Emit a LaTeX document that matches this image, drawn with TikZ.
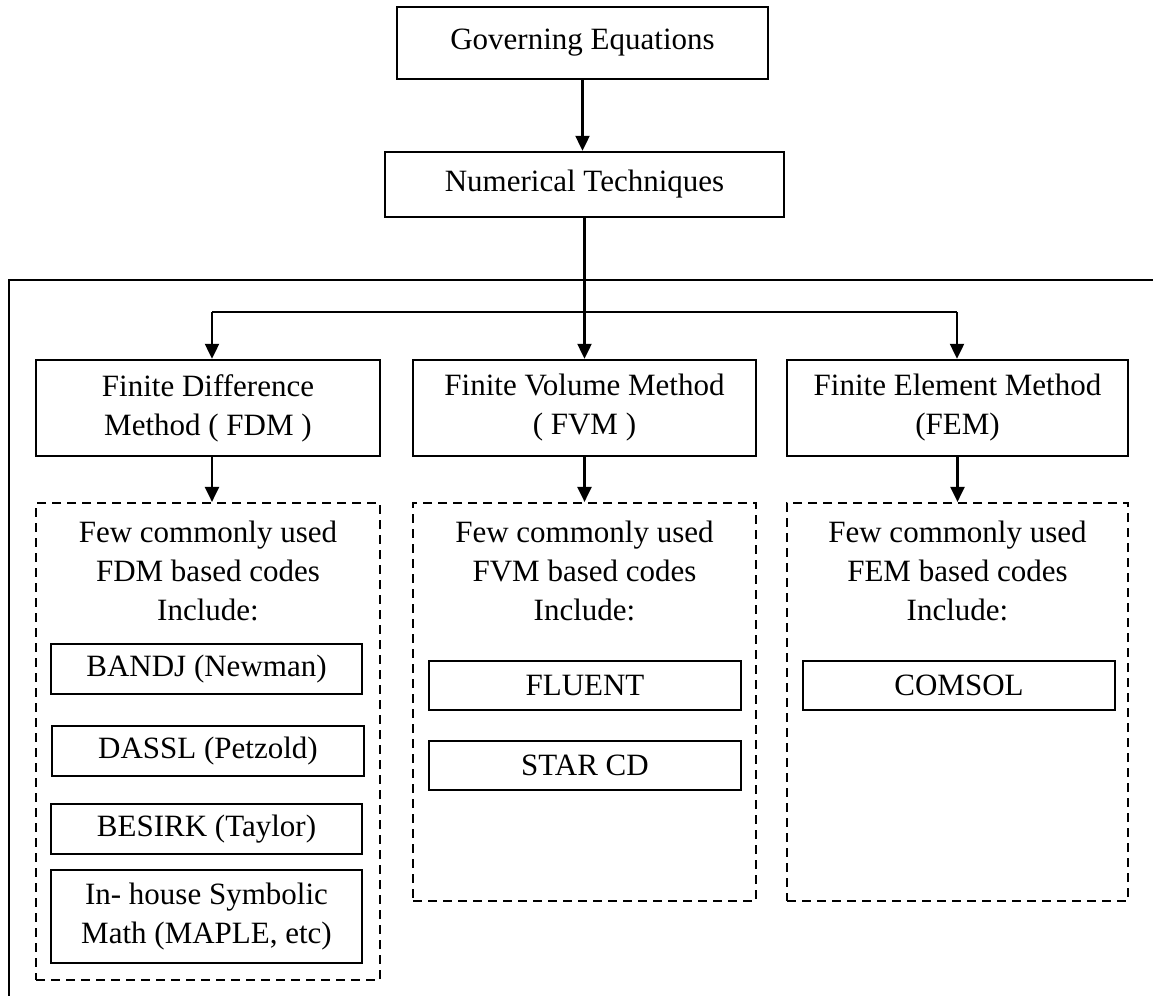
\documentclass[tikz,border=0pt]{standalone}
\usepackage{fontspec}
\setmainfont{Liberation Serif}
\usetikzlibrary{arrows.meta}
\begin{document}
\begin{tikzpicture}[x=1pt,y=-1pt,
  every node/.style={font=\fontsize{31}{39}\selectfont, align=center, inner sep=0pt},
  solidbox/.style={draw, line width=2.4pt, minimum width=#1},
  dashbox/.style={draw, line width=2.2pt, dash pattern=on 9pt off 6pt, minimum width=#1},
  conn/.style={line width=2.2pt},
  arr/.style={conn, -{Triangle[length=15pt,width=14pt]}}
]
\useasboundingbox (0,0) rectangle (1153,996);
% top boxes
\node[solidbox=371, minimum height=72] (gov) at (582.5,43) {Governing Equations};
\node[solidbox=399, minimum height=65] (num) at (584.5,184.5) {Numerical Techniques};
% method boxes
\node[solidbox=344, minimum height=96] (fdm) at (208,408) {Finite Difference\\Method ( FDM )};
\node[solidbox=343, minimum height=96] (fvm) at (584.5,408) {Finite Volume Method\\( FVM )};
\node[solidbox=341, minimum height=96] (fem) at (957.5,408) {Finite Element Method\\(FEM)};
% dashed containers
\node[dashbox=344, minimum height=477] (fdmc) at (208,741.5) {};
\node[dashbox=343, minimum height=398] (fvmc) at (584.5,702) {};
\node[dashbox=341, minimum height=398] (femc) at (957.5,702) {};
% headers
\node (fdmh) at (208,571) {Few commonly used\\FDM based codes\\Include:};
\node (fvmh) at (584.5,571) {Few commonly used\\FVM based codes\\Include:};
\node (femh) at (957.5,571) {Few commonly used\\FEM based codes\\Include:};
% code boxes
\node[solidbox=311, minimum height=50] (bandj) at (206.5,669) {BANDJ (Newman)};
\node[solidbox=312, minimum height=50] (dassl) at (208,751) {DASSL (Petzold)};
\node[solidbox=311, minimum height=50] (besirk) at (206.5,829) {BESIRK (Taylor)};
\node[solidbox=311, minimum height=93] (inhouse) at (206.5,916.5) {In- house Symbolic\\Math (MAPLE, etc)};
\node[solidbox=312, minimum height=49] (fluent) at (585,685.5) {FLUENT};
\node[solidbox=312, minimum height=49] (starcd) at (585,765.5) {STAR CD};
\node[solidbox=312, minimum height=49] (comsol) at (959,685.5) {COMSOL};
% frame lines
\coordinate (ftl) at (9,280);
\coordinate (ftr) at (1153,280);
\coordinate (fbl) at (9,996);
\draw[conn] (ftr) -- (ftl) -- (fbl);
% branch
\coordinate (bl) at (212,312);
\coordinate (br) at (957,312);
\draw[conn] (bl) -- (br);
\draw[arr] (gov.south) -- (gov.south |- num.north);
\draw[arr] (num.south) -- (num.south |- fvm.north);
\draw[arr] (bl) -- (bl |- fdm.north);
\draw[arr] (br) -- (br |- fem.north);
\draw[arr] (bl |- fdm.south) -- (bl |- fdmc.north);
\draw[arr] (fvm.south) -- (fvmc.north);
\draw[arr] (fem.south) -- (femc.north);
\end{tikzpicture}
\end{document}
